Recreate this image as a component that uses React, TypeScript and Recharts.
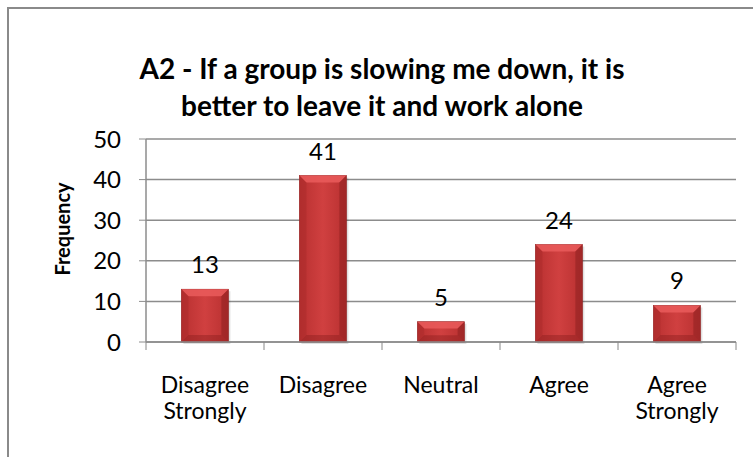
import React from 'react';
import { BarChart, Bar, XAxis, YAxis, CartesianGrid, LabelList } from 'recharts';

const categories = ['Disagree Strongly', 'Disagree', 'Neutral', 'Agree', 'Agree Strongly'];
const frequencies = [13, 41, 5, 24, 9];
const yTicks = [0, 10, 20, 30, 40, 50];
const titleLines = ['A2 - If a group is slowing me down, it is', 'better to leave it and work alone'];

const data = categories.map((c, i) => ({ name: c, value: frequencies[i] }));

const W = 753;
const H = 457;
const X_AXIS_H = 30;
const Y_AXIS_W = 80;
const M = { top: 139, right: 17, bottom: 115 - X_AXIS_H, left: 66 };
const FONT = 'Lato, "Open Sans", sans-serif';
const band = (W - M.left - M.right - Y_AXIS_W) / categories.length;

const BevelBar = (props: any) => {
    const { x, y, width, height } = props;
    if (!height || height <= 0) return null;
    const b = Math.min(7, height / 3, width / 4);
    return (
        <g>
            <rect x={x + 2} y={y + 2} width={width} height={height} fill="#000" opacity={0.12} />
            <rect x={x} y={y} width={width} height={height} fill="url(#barFill)" stroke="#8f2222" strokeWidth={0.6} />
            <polygon points={`${x},${y} ${x + width},${y} ${x + width - b},${y + b} ${x + b},${y + b}`} fill="#ea5c5c" opacity={0.85} />
            <polygon points={`${x},${y + height} ${x + width},${y + height} ${x + width - b},${y + height - b} ${x + b},${y + height - b}`} fill="#8e2020" opacity={0.45} />
            <polygon points={`${x},${y} ${x + b},${y + b} ${x + b},${y + height - b} ${x},${y + height}`} fill="#a92a2a" opacity={0.5} />
            <polygon points={`${x + width},${y} ${x + width - b},${y + b} ${x + width - b},${y + height - b} ${x + width},${y + height}`} fill="#8e2020" opacity={0.55} />
        </g>
    );
};

const CategoryTick = (props: any) => {
    const { x, y, payload, index } = props;
    const words = String(payload.value).split(' ');
    const top = y - 8;
    return (
        <g>
            <line x1={x - band / 2} y1={top} x2={x - band / 2} y2={top + 8} stroke="#888" />
            {index === categories.length - 1 && (
                <line x1={x + band / 2} y1={top} x2={x + band / 2} y2={top + 8} stroke="#888" />
            )}
            <text x={x} y={top + 51} textAnchor="middle" fontSize={23} fill="#000" fontFamily={FONT}>
                {words.map((w, i) => (
                    <tspan key={i} x={x} dy={i === 0 ? 0 : 26}>{w}</tspan>
                ))}
            </text>
        </g>
    );
};

export default function App() {
    return (
        <div style={{ position: 'absolute', left: 0, top: 0, width: W, height: H, background: '#fff', overflow: 'hidden', fontFamily: FONT }}>
            <div style={{ position: 'absolute', left: 7, top: 7, width: 800, height: 500, borderTop: '2px solid #8a8a8a', borderLeft: '2px solid #8a8a8a' }} />
            <div style={{ position: 'absolute', left: 0, top: 50, width: 764, textAlign: 'center', fontWeight: 700, fontSize: 28, lineHeight: '37px', color: '#000' }}>
                {titleLines.map((t, i) => <div key={i}>{t}</div>)}
            </div>
            <div style={{ position: 'absolute', left: 62, top: 229, transform: 'translate(-50%, -50%) rotate(-90deg)', fontWeight: 700, fontSize: 20, whiteSpace: 'nowrap', color: '#000' }}>
                Frequency
            </div>
            <div style={{ position: 'absolute', left: 0, top: 0 }}>
                <BarChart width={W} height={H} data={data} margin={M} barCategoryGap="30%">
                    <defs>
                        <linearGradient id="barFill" x1="0" y1="0" x2="1" y2="0">
                            <stop offset="0%" stopColor="#b83030" />
                            <stop offset="50%" stopColor="#d04040" />
                            <stop offset="100%" stopColor="#b83030" />
                        </linearGradient>
                    </defs>
                    <CartesianGrid vertical={false} stroke="#8c8c8c" strokeWidth={1.5} />
                    <XAxis
                        dataKey="name"
                        interval={0}
                        height={X_AXIS_H}
                        axisLine={{ stroke: '#8c8c8c', strokeWidth: 1.5 }}
                        tickLine={false}
                        tick={<CategoryTick />}
                    />
                    <YAxis
                        width={Y_AXIS_W}
                        domain={[0, 50]}
                        ticks={yTicks}
                        axisLine={{ stroke: '#8c8c8c', strokeWidth: 1.5 }}
                        tickLine={{ stroke: '#8c8c8c' }}
                        tickSize={7}
                        tickMargin={18}
                        tick={{ fontSize: 24, fill: '#000', fontFamily: FONT }}
                    />
                    <Bar dataKey="value" shape={<BevelBar />} isAnimationActive={false}>
                        <LabelList dataKey="value" position="top" offset={16} fontSize={24} fill="#000" fontFamily={FONT} />
                    </Bar>
                </BarChart>
            </div>
        </div>
    );
}
